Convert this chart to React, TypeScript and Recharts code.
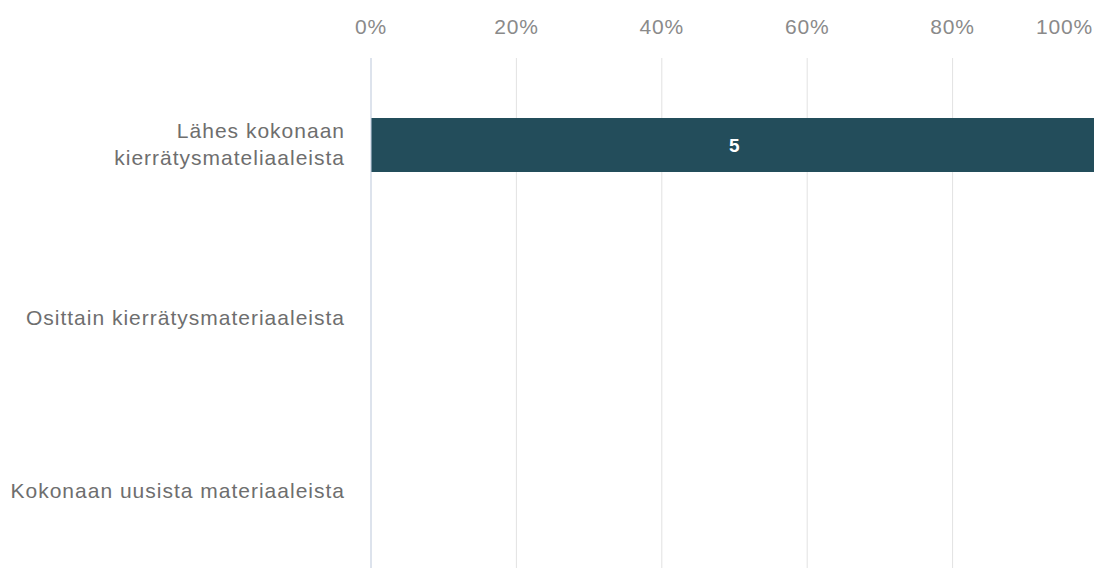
import { BarChart, Bar, XAxis, YAxis, CartesianGrid, LabelList } from "recharts";

const categories = [
  "Lähes kokonaan\nkierrätysmateliaaleista",
  "Osittain kierrätysmateriaaleista",
  "Kokonaan uusista materiaaleista",
];
const counts = [5, 0, 0];
const shares = [100, 0, 0];
const xTicks = [0, 20, 40, 60, 80, 100];

const data = categories.map((name, i) => ({ name, share: shares[i], count: counts[i] }));

const FONT = '"Liberation Sans", Arial, Helvetica, sans-serif';

const TopTick = (props: any) => {
  const { x, y, payload } = props;
  const last = payload.value === 100;
  return (
    <text
      x={last ? Math.min(x, 1093) : x}
      y={y}
      textAnchor={last ? "end" : "middle"}
      fontSize={21}
      letterSpacing={0.8}
      fontFamily={FONT}
      fill="#8a8a8a"
    >
      {payload.value}%
    </text>
  );
};

const CategoryTick = (props: any) => {
  const { x, y, payload } = props;
  const lines = String(payload.value).split("\n");
  const lh = 27;
  const first = y + 7 - ((lines.length - 1) * lh) / 2;
  return (
    <text textAnchor="end" fontSize={21} letterSpacing={1} fontFamily={FONT} fill="#6e6e6e">
      {lines.map((l, i) => (
        <tspan key={i} x={x} y={first + i * lh}>
          {l}
        </tspan>
      ))}
    </text>
  );
};

// only show labels on bars that have a count
const CountLabel = (props: any) => {
  const { x, y, width, height, index } = props;
  const c = counts[index];
  if (!c) return null;
  return (
    <text
      x={x + width / 2}
      y={y + height / 2 + 7}
      textAnchor="middle"
      fontSize={19}
      fontWeight={600}
      letterSpacing={0.5}
      fontFamily={FONT}
      fill="#ffffff"
    >
      {c}
    </text>
  );
};

export default function App() {
  return (
    <div
      style={{
        position: "absolute",
        left: 0,
        top: 0,
        width: 1094,
        height: 568,
        overflow: "hidden",
        background: "#fff",
      }}
    >
      <BarChart
        width={1100}
        height={582}
        data={data}
        layout="vertical"
        margin={{ top: 0, right: 2, bottom: 5, left: 0 }}
      >
        <CartesianGrid horizontal={false} stroke="#e2e2e2" />
        <XAxis
          type="number"
          orientation="top"
          domain={[0, 100]}
          ticks={xTicks}
          height={58}
          axisLine={false}
          tickLine={false}
          tickSize={0}
          tickMargin={24}
          interval={0}
          tick={<TopTick />}
        />
        <YAxis
          type="category"
          dataKey="name"
          width={371}
          axisLine={{ stroke: "#c9d5e8" }}
          tickLine={false}
          tickSize={0}
          tickMargin={26}
          interval={0}
          tick={<CategoryTick />}
        />
        <Bar dataKey="share" fill="#234d5b" barSize={54} isAnimationActive={false}>
          <LabelList dataKey="count" content={<CountLabel />} />
        </Bar>
      </BarChart>
    </div>
  );
}
